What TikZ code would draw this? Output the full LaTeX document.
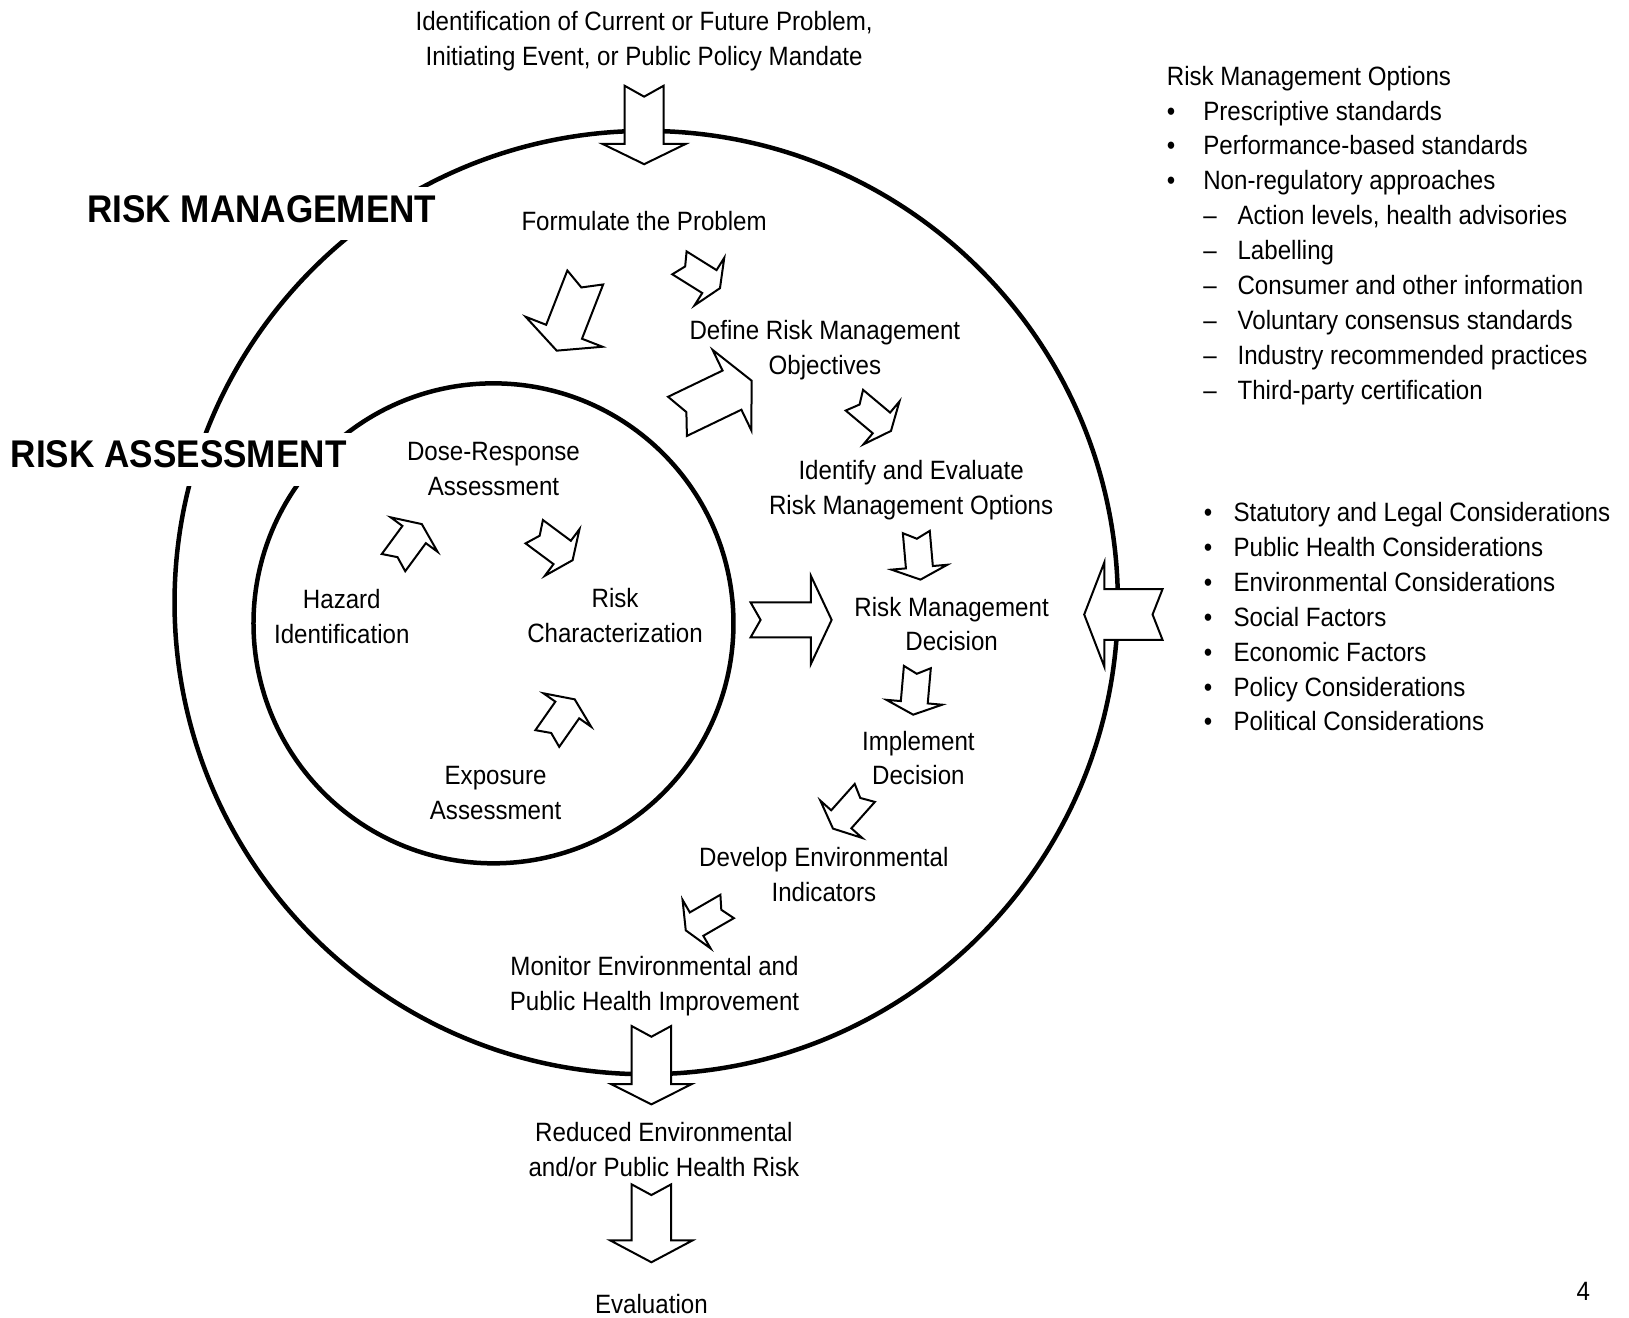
\documentclass[tikz,border=0pt]{standalone}
\usepackage{fontspec}
\setmainfont{Liberation Sans}[FakeStretch=0.91]
% centred / left-aligned line stacks whose baseline is the first line
\newcommand\cstack[1]{\vtop{\baselineskip=34.9pt\halign{\hfil##\hfil\cr#1\crcr}}}
\newcommand\lstack[1]{\vtop{\baselineskip=34.9pt\halign{##\hfil\cr#1\crcr}}}
\newcommand\bulA{\makebox[36.4pt][l]{\textbullet}}
\newcommand\dashA{\hspace*{36.4pt}\makebox[34.3pt][l]{\textendash}}
\newcommand\bulB{\makebox[29.8pt][l]{\textbullet}}

\begin{document}
\begin{tikzpicture}[x=1.039pt, y=-1.039pt,
  ring/.style={line width=4.5pt},
  blockarrow/.style={draw=black, line width=2pt, fill=white, line join=miter, miter limit=10},
  txt/.style={font=\fontsize{26.5}{34.9}\selectfont, inner sep=0pt, anchor=base},
  heading/.style={font=\fontsize{38.6}{40}\selectfont\bfseries, fill=white, anchor=base,
                  inner xsep=6pt, inner ysep=8pt, text height=27pt, text depth=10pt},
  % notched block arrow: length / shaft half width / head half width / head length / notch depth
  pics/notched/.style args={#1/#2/#3/#4/#5}{code={
    \draw[blockarrow] ({-(#1)/2},{#2}) -- ({(#1)/2-(#4)},{#2}) -- ({(#1)/2-(#4)},{#3})
      -- ({(#1)/2},0) -- ({(#1)/2-(#4)},{-(#3)}) -- ({(#1)/2-(#4)},{-(#2)})
      -- ({-(#1)/2},{-(#2)}) -- ({-(#1)/2+(#5)},0) -- cycle;
  }}
]
\fill[white] (0,0) rectangle (1568,1268);
\useasboundingbox (0,0) rectangle (1568,1268);

% the two process rings
\draw[ring] (622,580) circle[radius=454];
\draw[ring] (475,600) circle[radius=231];

\node[heading] (rm) at (252,214) {RISK MANAGEMENT};
\node[heading] (ra) at (172,450) {RISK ASSESSMENT};

% large block arrows
\pic[rotate=-90] at (620,120.3) {notched=75.5/18.75/40/19.5/10.5};
\pic[rotate=-90] at (627,1025.3) {notched=75.4/19/39/19.6/10.3};
\pic[rotate=-90] at (627,1177.5) {notched=75/19/39.5/21/10.3};
\pic[rotate=-111.3] at (549.6,302.3) {notched=75.6/18.5/39.7/19.5/10.3};
\pic[rotate=25.7] at (687.8,383.6) {notched=79.2/20.9/43/21/9.5};
\pic[rotate=0] at (761.5,596.7) {notched=78/16.8/42.5/20/9.6};
\pic[rotate=180] at (1081.3,591.5) {notched=75.4/24.4/50/19.3/9.6};

% small block arrows along the management cycle
\pic[rotate=-32] at (673.5,265.2) {notched=46/13/27/12/6.5};
\pic[rotate=-40] at (840,400) {notched=46/13/27/12/6.5};
\pic[rotate=-85] at (884,535) {notched=46/13/27/12/6.5};
\pic[rotate=-95] at (881,665) {notched=46/13/27/12/6.5};
\pic[rotate=-131.7] at (817.1,780.4) {notched=46/13/27/12/6.5};
\pic[rotate=-150] at (680,884) {notched=46/13/27/12/6.5};
% small block arrows inside the assessment ring
\pic[rotate=53.7] at (392.4,523) {notched=46/14/28/12.5/6.5};
\pic[rotate=-36.6] at (532.7,525.5) {notched=46/14/28/12.5/6.5};
\pic[rotate=55] at (540,692) {notched=46/14/28/12.5/6.5};

% process texts
\node[txt] (start) at (620,29) {\cstack{Identification of Current or Future Problem,\cr Initiating Event, or Public Policy Mandate}};
\node[txt] (formulate) at (620,222) {Formulate the Problem};
\node[txt] (define) at (794,327) {\cstack{Define Risk Management\cr Objectives}};
\node[txt] (options) at (877,462) {\cstack{Identify and Evaluate\cr Risk Management Options}};
\node[txt] (decision) at (916,593) {\cstack{Risk Management\cr Decision}};
\node[txt] (implement) at (884,722) {\cstack{Implement\cr Decision}};
\node[txt] (indicators) at (793,834) {\cstack{Develop Environmental\cr Indicators}};
\node[txt] (monitor) at (630,939) {\cstack{Monitor Environmental and\cr Public Health Improvement}};
\node[txt] (reduced) at (639,1099) {\cstack{Reduced Environmental\cr and/or Public Health Risk}};
\node[txt] (evaluation) at (627,1264) {Evaluation};

\node[txt] (dose) at (475,443) {\cstack{Dose-Response\cr Assessment}};
\node[txt] (hazard) at (329,586) {\cstack{Hazard\cr Identification}};
\node[txt] (riskchar) at (592,585) {\cstack{Risk\cr Characterization}};
\node[txt] (exposure) at (477,755) {\cstack{Exposure\cr Assessment}};

% side lists
\node[txt, anchor=base west] (optlist) at (1123,82) {\lstack{%
  Risk Management Options\cr
  \bulA Prescriptive standards\cr
  \bulA Performance-based standards\cr
  \bulA Non-regulatory approaches\cr
  \dashA Action levels, health advisories\cr
  \dashA Labelling\cr
  \dashA Consumer and other information\cr
  \dashA Voluntary consensus standards\cr
  \dashA Industry recommended practices\cr
  \dashA Third-party certification}};
\node[txt, anchor=base west] (factors) at (1158.5,502) {\lstack{%
  \bulB Statutory and Legal Considerations\cr
  \bulB Public Health Considerations\cr
  \bulB Environmental Considerations\cr
  \bulB Social Factors\cr
  \bulB Economic Factors\cr
  \bulB Policy Considerations\cr
  \bulB Political Considerations}};

\node[txt] (page) at (1524,1252) {4};
\end{tikzpicture}
\end{document}
